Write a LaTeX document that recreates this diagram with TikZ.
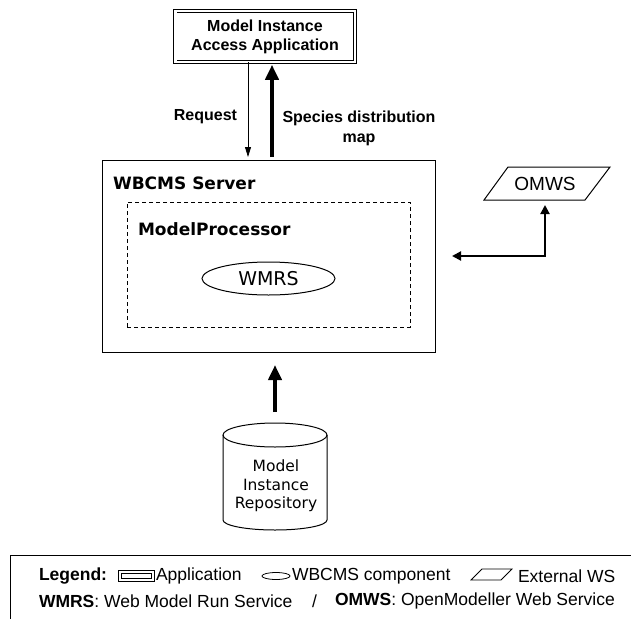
\documentclass[tikz,border=0pt]{standalone}
\usepackage{fontspec}
\setmainfont{Liberation Sans}
\newfontfamily\tahoma{DejaVu Sans}
\usetikzlibrary{arrows.meta,shapes.geometric}
\begin{document}
\begin{tikzpicture}[x=1pt,y=-1pt,
  every node/.style={inner sep=0pt, outer sep=0pt},
  appbox/.style={draw, double, double distance=2.5pt, line width=0.9pt, align=center,
    minimum width=179.5pt, minimum height=50.5pt, font=\fontsize{16}{19}\selectfont\bfseries},
  serverbox/.style={draw, line width=1pt, minimum width=333pt, minimum height=192pt},
  procbox/.style={draw, line width=1pt, dash pattern=on 4pt off 3pt, minimum width=283pt, minimum height=125pt},
  compo/.style={draw, ellipse, line width=1pt, minimum width=133pt, minimum height=33pt, font=\tahoma\fontsize{19}{22}\selectfont},
  title/.style={anchor=west, font=\tahoma\fontsize{17}{20}\selectfont\bfseries},
  lbl/.style={font=\fontsize{16}{20}\selectfont\bfseries, align=center},
  thinarr/.style={line width=0.8pt, -{Triangle[width=6pt,length=10pt]}},
  fatarr/.style={line width=4.5pt, -{Triangle[width=13pt,length=15pt]}},
  medarr/.style={line width=2pt, {Triangle[width=9pt,length=9pt]}-{Triangle[width=9pt,length=9pt]}},
  legtxt/.style={anchor=west, font=\fontsize{17.5}{20}\selectfont},
  legbold/.style={anchor=west, font=\fontsize{17.5}{20}\selectfont\bfseries},
  shapeline/.style={line width=1pt},
]
\path[use as bounding box, fill=white] (0,0) rectangle (631,618);
\clip (0,0) rectangle (631,618);

% application
\node[appbox] (app) at (265,36.5) {Model Instance\\Access Application};

% server and processor
\node[serverbox] (server) at (268.5,256) {};
\node[procbox] (proc) at (268.5,264.5) {};
\node[title] (srvlbl) at (113,183) {WBCMS Server};
\node[title] (proclbl) at (138,229) {ModelProcessor};
\node[compo] (wmrs) at (268.5,278.5) {WMRS};

% request / map arrows
\coordinate (xreq) at (248,0);
\coordinate (xmap) at (272,0);
\draw[thinarr] (app.south -| xreq) -- ([yshift=3pt]server.north -| xreq);
\draw[fatarr] ([yshift=3pt]server.north -| xmap) -- ([yshift=-3pt]app.south -| xmap);
\node[lbl, anchor=east] (reqlbl) at (237,117) {Request};
\node[lbl] (maplbl) at (359,128) {Species distribution\\map};

% OMWS
\draw[shapeline] (508,167) -- (610,167) -- (585,200) -- (484,200) -- cycle;
\node[minimum height=33pt, font=\fontsize{19}{22}\selectfont] (omws) at (545,183.5) {OMWS};
\draw[medarr] ([yshift=-5pt]omws.south) |- ([xshift=17pt]server.east);

% repository
\node[minimum width=104pt, minimum height=107pt] (repo) at (275,476.5) {};
\draw[shapeline] (275,435) ellipse [x radius=52pt, y radius=12pt];
\draw[shapeline] (223,435) -- (223,520) arc[start angle=180, end angle=360, x radius=52pt, y radius=10pt] -- (327,435);
\node[font=\tahoma\fontsize{15.5}{18.5}\selectfont, align=center] (repotext) at (276,486) {Model\\Instance\\Repository};
\draw[fatarr] ([yshift=11pt]repo.north) -- ([yshift=-13pt]server.south -| repo.north);

% legend
\draw[line width=1pt] (640,555) -- (10,555) -- (10,630);
\node[legbold] (lg) at (39,576) {Legend:};
\draw[double, double distance=1.5pt, line width=0.8pt] (120,572) rectangle (153,580);
\node[legtxt] (lapp) at (156,576) {Application};
\draw[line width=0.8pt] (276,576) ellipse [x radius=14pt, y radius=3.5pt];
\node[legtxt] (lcomp) at (292,576) {WBCMS component};
\draw[line width=0.8pt] (482,569) -- (512,569) -- (501,580) -- (471,580) -- cycle;
\node[legtxt] (lext) at (518,576) {External WS};
\node[legtxt] (lwmrs) at (39,601) {\textbf{WMRS}: Web Model Run Service};
\node[legtxt] (lslash) at (312,601) {/};
\node[legtxt] (lomws) at (335,601) {\textbf{OMWS}: OpenModeller Web Service};
\end{tikzpicture}
\end{document}
